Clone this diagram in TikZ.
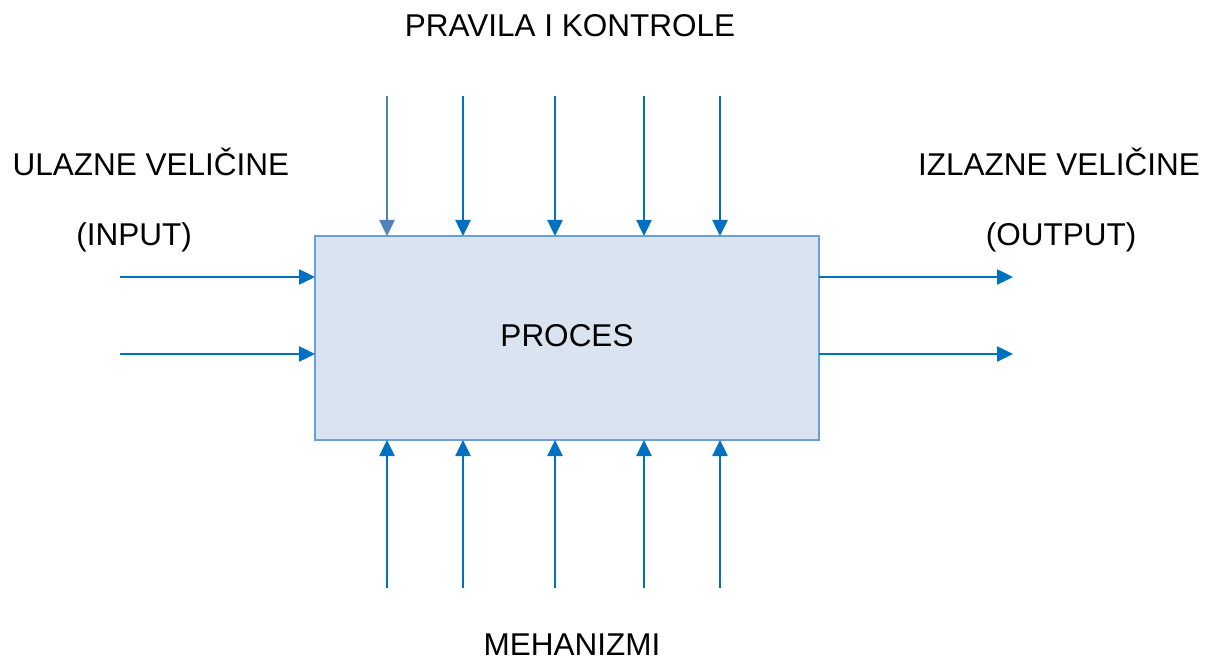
\documentclass[tikz,border=0pt]{standalone}
\usepackage{fontspec}
\setmainfont{Liberation Sans}
\usetikzlibrary{arrows.meta}
\definecolor{arrblue}{HTML}{0070C0}
\definecolor{arrsteel}{HTML}{4F81BD}
\definecolor{boxfill}{HTML}{DAE3F0}
\definecolor{boxline}{HTML}{6A9FDC}
\tikzset{
  arr/.style={draw=arrblue, line width=2.5pt, -{Triangle[length=16pt,width=15pt]}},
  lbl/.style={font=\fontsize{31.5}{36}\selectfont, inner sep=0pt, anchor=base},
  procbox/.style={draw=boxline, fill=boxfill, line width=1.8pt, minimum width=504pt, minimum height=204pt, inner sep=0pt, outer sep=0pt}
}
\begin{document}
\begin{tikzpicture}[x=1pt,y=-1pt]
\useasboundingbox (0,0) rectangle (1212,660);
\node[procbox] (proc) at (567,338) {};
\node[lbl] (proctxt) at (567,346) {PROCES};
\node[lbl] (ctrl) at (570,37) {PRAVILA I KONTROLE};
\node[lbl] (in1) at (151,176) {ULAZNE VELIČINE};
\node[lbl] (in2) at (134,246) {(INPUT)};
\node[lbl] (out1) at (1059,176) {IZLAZNE VELIČINE};
\node[lbl] (out2) at (1061,246) {(OUTPUT)};
\node[lbl, text depth=0pt] (mech) at (572,655) {MEHANIZMI};
% top and bottom arrow ends
\foreach \i/\x in {1/387,2/463,3/555,4/644,5/720}{
  \coordinate (t\i) at (\x,96);
  \coordinate (b\i) at (\x,588);
}
\draw[arr, draw=arrsteel, -{Triangle[length=16pt,width=15pt,fill=arrsteel]}] (t1) -- (t1 |- proc.north);
\foreach \i in {2,3,4,5}{ \draw[arr] (t\i) -- (t\i |- proc.north); }
\foreach \i in {1,2,3,4,5}{ \draw[arr] (b\i) -- (b\i |- proc.south); }
% inputs
\coordinate (l1) at (120,277);
\coordinate (l2) at (120,354);
\draw[arr] (l1) -- (l1 -| proc.west);
\draw[arr] (l2) -- (l2 -| proc.west);
% outputs
\coordinate (r1) at (1013,277);
\coordinate (r2) at (1013,354);
\draw[arr] (r1 -| proc.east) -- (r1);
\draw[arr] (r2 -| proc.east) -- (r2);
\end{tikzpicture}
\end{document}
